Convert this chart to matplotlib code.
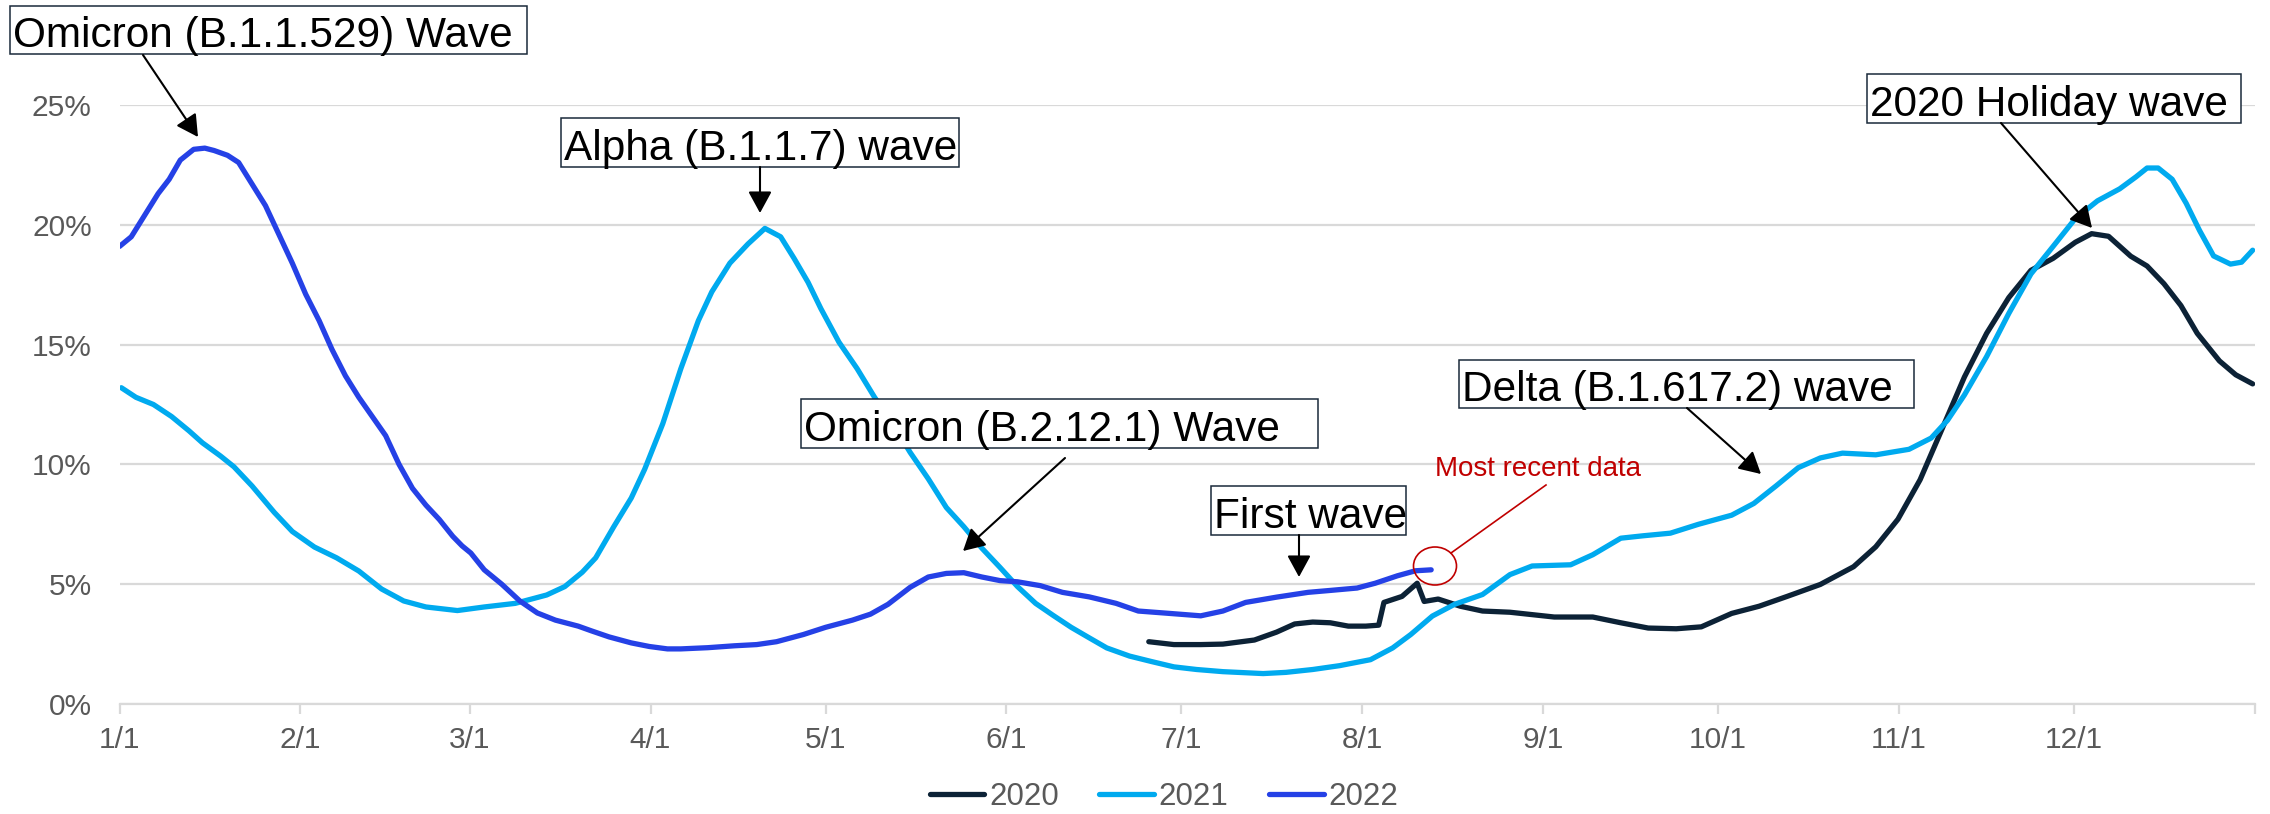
import matplotlib
matplotlib.use("Agg")
import matplotlib.pyplot as plt
from matplotlib.patches import Rectangle, Ellipse, FancyArrowPatch
from matplotlib.lines import Line2D

plt.rcParams['font.family'] = ['Liberation Sans', 'DejaVu Sans']

# ---------------- data (day of year, leap-year calendar; values in %) ----------------
month_labels = ["1/1", "2/1", "3/1", "4/1", "5/1", "6/1", "7/1", "8/1", "9/1", "10/1", "11/1", "12/1"]
month_starts = [0, 31, 60, 91, 121, 152, 182, 213, 244, 274, 305, 335]
year_end = 366

days_2020 = [176.4, 180.7, 185.3, 189.1, 194.5, 198.3, 201.4, 204.5, 207.5, 210.6,
             213.6, 215.8, 216.7, 219.8, 222.4, 223.6, 226, 229.8, 233.6, 238.3,
             245.9, 252.5, 257.3, 262, 266.8, 271.1, 276.3, 281, 285.8, 291.5,
             297.2, 301, 304.8, 308.6, 312.4, 316.2, 320, 323.8, 327.6, 331.4,
             335.2, 338, 340.9, 344.7, 347.5, 350.4, 353.3, 356.1, 359.9, 362.7, 365.6]
vals_2020 = [2.6, 2.48, 2.48, 2.5, 2.67, 3.0, 3.34, 3.42, 3.39, 3.25,
             3.25, 3.29, 4.24, 4.49, 5.04, 4.28, 4.38, 4.08, 3.88, 3.83,
             3.63, 3.63, 3.39, 3.17, 3.14, 3.22, 3.78, 4.08, 4.49, 4.99,
             5.73, 6.56, 7.71, 9.36, 11.5, 13.65, 15.47, 16.96, 18.1, 18.6,
             19.27, 19.63, 19.52, 18.69, 18.28, 17.54, 16.63, 15.47, 14.32, 13.74, 13.36]

days_2021 = [0.3, 2.8, 5.8, 8.9, 11.9, 14.2, 17.3, 19.6, 22.7, 26.5,
             29.6, 33.4, 37.2, 41, 44.9, 48.7, 52.5, 57.9, 62.5, 67.8,
             70.9, 73.2, 76.3, 79.3, 81.6, 84.7, 87.7, 90, 93.1, 96.2,
             99.2, 101.5, 104.6, 107.7, 110.6, 113.3, 115.6, 118, 120.2, 123.3,
             126.4, 129.4, 132.5, 135.5, 138.6, 141.7, 144.7, 147.8, 150.9, 153.9,
             157, 160, 163.1, 166.2, 169.2, 173.1, 176.9, 180.7, 184.6, 189.1,
             196, 199.9, 204.5, 209.1, 214.4, 218.2, 221.3, 225, 228.8, 233.6,
             238.3, 242.1, 248.7, 252.5, 257.3, 261.1, 265.8, 270.6, 276.3, 280.1,
             283.9, 287.7, 291.5, 295.3, 301, 306.7, 310.5, 313.3, 316.2, 320,
             323.8, 327.6, 331.4, 335.2, 339, 342.8, 345.6, 347.5, 349.4, 351.8,
             354.2, 356.5, 358.9, 361.8, 363.7, 365.6]
vals_2021 = [13.2, 12.8, 12.5, 12.0, 11.4, 10.9, 10.35, 9.9, 9.1, 8.0,
             7.2, 6.55, 6.1, 5.55, 4.8, 4.3, 4.05, 3.9, 4.05, 4.2,
             4.4, 4.55, 4.9, 5.5, 6.1, 7.4, 8.6, 9.8, 11.7, 14.0,
             16.0, 17.2, 18.4, 19.2, 19.85, 19.5, 18.6, 17.6, 16.5, 15.1,
             14.0, 12.8, 11.7, 10.5, 9.4, 8.2, 7.4, 6.5, 5.7, 4.9,
             4.2, 3.7, 3.2, 2.76, 2.34, 2.0, 1.77, 1.55, 1.44, 1.35,
             1.27, 1.32, 1.44, 1.6, 1.85, 2.34, 2.9, 3.67, 4.16, 4.57,
             5.4, 5.76, 5.81, 6.23, 6.92, 7.02, 7.13, 7.5, 7.88, 8.37,
             9.1, 9.86, 10.27, 10.47, 10.4, 10.63, 11.1, 11.84, 12.9, 14.5,
             16.3, 17.95, 19.1, 20.26, 21.0, 21.5, 22.0, 22.37, 22.37, 21.9,
             20.9, 19.76, 18.7, 18.36, 18.44, 18.94]

days_2022 = [0, 2, 4.3, 6.6, 8.5, 10.4, 12.7, 14.6, 16.2, 18.5,
             20.4, 22.7, 25, 27.3, 29.6, 31.9, 34.2, 36.4, 38.7, 41,
             43.3, 45.6, 47.9, 50.2, 52.5, 54.8, 57.1, 58.7, 60.2, 62.5,
             65.5, 68.6, 71.6, 74.7, 78.6, 80.9, 83.9, 87.7, 90.8, 93.9,
             96.2, 100.8, 105.4, 109.2, 112.6, 117.2, 121, 125.6, 128.7, 131.7,
             135.5, 138.6, 141.7, 144.7, 147.8, 150.9, 153.9, 157.8, 161.6, 166.2,
             170.8, 174.6, 180, 185.3, 189.1, 193, 198.3, 203.7, 207.5, 212.1,
             215.2, 219, 222.1, 224.8]
vals_2022 = [19.1, 19.5, 20.4, 21.3, 21.9, 22.7, 23.15, 23.2, 23.1, 22.9,
             22.6, 21.7, 20.8, 19.6, 18.4, 17.1, 16.0, 14.8, 13.7, 12.8,
             12.0, 11.2, 10.0, 9.0, 8.3, 7.7, 7.0, 6.6, 6.3, 5.6,
             5.0, 4.3, 3.8, 3.5, 3.25, 3.05, 2.8, 2.55, 2.4, 2.3,
             2.3, 2.35, 2.43, 2.48, 2.6, 2.9, 3.2, 3.5, 3.75, 4.16,
             4.87, 5.3, 5.45, 5.48, 5.3, 5.15, 5.1, 4.94, 4.66, 4.47,
             4.2, 3.88, 3.78, 3.68, 3.88, 4.24, 4.46, 4.66, 4.74, 4.84,
             5.04, 5.35, 5.56, 5.6]

series_names = ["2020", "2021", "2022"]
y_ticks = [0, 5, 10, 15, 20, 25]

# ---------------- styling ----------------
W, H = 2270, 814
colors = {"2020": "#0C2236", "2021": "#00AAEF", "2022": "#2541E6"}
tick_color = "#595959"
grid_color = "#D9D9D9"
tick_fs = 21.5
ann_fs = 30.5
LW = 3.8

fig = plt.figure(figsize=(W / 100, H / 100), dpi=100)
ax = fig.add_axes([119.6 / W, 1 - 704 / H, (2255 - 119.6) / W, (704 - 105) / H])

data = {"2020": (days_2020, vals_2020), "2021": (days_2021, vals_2021), "2022": (days_2022, vals_2022)}
for name in series_names:
    d, v = data[name]
    ax.plot(d, v, color=colors[name], lw=LW, solid_capstyle='round', solid_joinstyle='round',
            zorder=3, label=name)

ax.set_xlim(0, year_end)
ax.set_ylim(0, 25)
ax.set_yticks(y_ticks)
ax.set_yticklabels([f"{t}%" for t in y_ticks])
ax.set_xticks(month_starts + [year_end])
ax.set_xticklabels(month_labels + [""])

for s in ["top", "right", "left"]:
    ax.spines[s].set_visible(False)
ax.spines["bottom"].set_color(grid_color)
ax.spines["bottom"].set_linewidth(1.6)
ax.yaxis.grid(True, color=grid_color, lw=1.6, zorder=0)
ax.set_axisbelow(True)
ax.tick_params(axis='y', length=0, pad=20, labelsize=tick_fs, labelcolor=tick_color)
ax.tick_params(axis='x', length=7, width=1.6, color=grid_color, pad=9,
               labelsize=tick_fs, labelcolor=tick_color)

# legend
handles = [Line2D([0], [0], color=colors[n], lw=LW, solid_capstyle='round') for n in series_names]
leg = fig.legend(handles, series_names, loc='center', bbox_to_anchor=(1164 / W, 1 - 797 / H),
                 ncol=3, frameon=False, fontsize=22.5, handlelength=1.75, handletextpad=0.15,
                 columnspacing=1.3, borderaxespad=0, borderpad=0)
for t in leg.get_texts():
    t.set_color(tick_color)


def fx(x):
    return x / W


def fy(y):
    return 1 - y / H


def label_box(x0, y0, x1, y1, text):
    fig.patches.append(Rectangle((fx(x0), fy(y1)), (x1 - x0) / W, (y1 - y0) / H,
                                 transform=fig.transFigure, facecolor='white',
                                 edgecolor='#1A2A3A', lw=1.1, zorder=4))
    fig.text(fx(x0 + 3), fy(y1 - 7), text, fontsize=ann_fs, color='black',
             ha='left', va='baseline', zorder=5)


def arrow(xa, ya, xb, yb):
    fig.add_artist(FancyArrowPatch((fx(xa), fy(ya)), (fx(xb), fy(yb)),
                                   transform=fig.transFigure,
                                   arrowstyle='-|>,head_length=0.55,head_width=0.3',
                                   mutation_scale=24, lw=1.5, color='black',
                                   shrinkA=0, shrinkB=0, zorder=5))


label_box(10, 6, 527, 54, "Omicron (B.1.1.529) Wave")
arrow(143, 55, 198, 137)

label_box(561, 118, 959, 167, "Alpha (B.1.1.7) wave")
arrow(760, 167, 760, 213)

label_box(801, 399, 1318, 448, "Omicron (B.2.12.1) Wave")
arrow(1065, 458, 963, 551)

label_box(1211, 486, 1406, 535, "First wave")
arrow(1299, 535, 1299, 577)

label_box(1459, 360, 1914, 408, "Delta (B.1.617.2) wave")
arrow(1687, 408, 1761, 474)

label_box(1867, 74, 2241, 123, "2020 Holiday wave")
arrow(2001, 123, 2092, 228)

# most recent data marker
fig.text(fx(1435), fy(476), "Most recent data", fontsize=20, color='#C00000',
         ha='left', va='baseline', zorder=5)
fig.patches.append(Ellipse((fx(1435), fy(566)), 43 / W, 38 / H, transform=fig.transFigure,
                           facecolor='none', edgecolor='#C00000', lw=1.2, zorder=5))
fig.add_artist(Line2D([fx(1451), fx(1546)], [fy(553), fy(485)], transform=fig.transFigure,
                      color='#C00000', lw=1.2, zorder=5))

fig.savefig("out.png", dpi=100, facecolor='white')
